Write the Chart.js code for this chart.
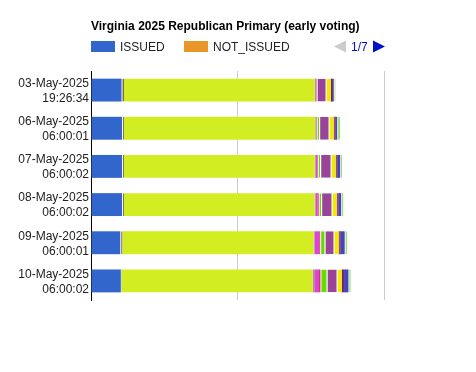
<!DOCTYPE html>
<html>
<head>
<meta charset="utf-8">
<script src="https://cdn.jsdelivr.net/npm/chart.js@4"></script>
<style>
  html, body { margin: 0; background: #fff; }
</style>
</head>
<body>
<canvas id="chart" width="476" height="372"></canvas>
<script>
/* Virginia 2025 Republican Primary — early voting ballot status snapshots */
/* global Chart */

const TITLE = "Virginia 2025 Republican Primary (early voting)";

// ─── Data ────────────────────────────────────────────────────────────────────

const snapshots = [
  ["03-May-2025", "19:26:34"],
  ["06-May-2025", "06:00:01"],
  ["07-May-2025", "06:00:02"],
  ["08-May-2025", "06:00:02"],
  ["09-May-2025", "06:00:01"],
  ["10-May-2025", "06:00:02"],
];

const statusNames = [
  "ISSUED", "NOT_ISSUED", "CANCELLED", "ON_MACHINE", "PRE-PROCESSED",
  "MARKED", "PROVISIONAL", "FWAB", "RETURNED", "UNDELIVERABLE",
  "SPOILED", "FAILED", "EXPIRED", "OTHER",
];

const statusColors = [
  "#3366cc", "#e8962a", "#7d6a4d", "#d2ee22", "#c487a8",
  "#dd44dd", "#dd3355", "#66dd00", "#994499", "#f0ea00",
  "#8b1c3c", "#552288", "#4444bb", "#88dd55",
];

// statuses drawn with a thin white gap before them
const gapped = [false, false, true, false, false, false, false, true, true, true, false, false, false, true];

const issued        = [6250, 6360, 6360, 6360, 5990, 6110];
const notIssued     = [0, 0, 0, 0, 0, 0];
const cancelled     = [510, 410, 410, 410, 470, 140];
const onMachine     = [39050, 39150, 39050, 39050, 39150, 39150];
const preProcessed  = [410, 140, 200, 200, 200, 470];
const marked        = [0, 160, 410, 410, 920, 820];
const provisional   = [0, 0, 0, 200, 200, 290];
const fwab          = [0, 510, 510, 510, 920, 1290];
const returned      = [1850, 1950, 2150, 2150, 1850, 2050];
const undeliverable = [1030, 1030, 1030, 1030, 1030, 1030];
const spoiled       = [270, 200, 200, 200, 200, 270];
const failed        = [180, 200, 200, 200, 200, 200];
const expired       = [160, 310, 510, 510, 820, 900];
const other         = [360, 560, 360, 460, 460, 460];

const seriesValues = [
  issued, notIssued, cancelled, onMachine, preProcessed, marked, provisional,
  fwab, returned, undeliverable, spoiled, failed, expired, other,
];

const X_MAX = 60000;
const X_STEP = 30000;
const LEGEND_PER_PAGE = 2;

// ─── Header (title, legend, pager) ───────────────────────────────────────────

const FONT = "Arial, 'Liberation Sans', sans-serif";

const headerPlugin = {
  id: "header",
  afterDraw(chart) {
    const { ctx, chartArea } = chart;
    const left = chartArea.left;
    ctx.save();

    ctx.fillStyle = "#000";
    ctx.font = `bold 12px ${FONT}`;
    ctx.textBaseline = "alphabetic";
    ctx.fillText(TITLE, left, 30);

    // first legend page
    ctx.font = `12px ${FONT}`;
    let x = left;
    chart.data.datasets.slice(0, LEGEND_PER_PAGE).forEach((ds) => {
      ctx.fillStyle = ds.backgroundColor;
      ctx.fillRect(x, 41, 24, 11);
      ctx.fillStyle = "#222";
      ctx.fillText(ds.label, x + 29, 51);
      x += 93;
    });

    // pager
    const pages = Math.ceil(chart.data.datasets.length / LEGEND_PER_PAGE);
    ctx.fillStyle = "#cccccc";
    ctx.beginPath();
    ctx.moveTo(334, 46.5); ctx.lineTo(346, 40.5); ctx.lineTo(346, 52.5);
    ctx.fill();
    ctx.fillStyle = "#0011cc";
    ctx.fillText(`1/${pages}`, 351, 51);
    ctx.beginPath();
    ctx.moveTo(373, 40.5); ctx.lineTo(385, 46.5); ctx.lineTo(373, 52.5);
    ctx.fill();

    ctx.restore();
  },
};

// ─── Chart ───────────────────────────────────────────────────────────────────

const datasets = statusNames.map((name, i) => ({
  label: name,
  data: seriesValues[i],
  backgroundColor: statusColors[i],
  borderColor: "#ffffff",
  borderWidth: gapped[i] ? { left: 1, right: 0, top: 0, bottom: 0 } : 0,
  borderSkipped: false,
  barPercentage: 0.6,
  categoryPercentage: 1,
}));

new Chart(document.getElementById("chart"), {
  type: "bar",
  data: { labels: snapshots, datasets },
  options: {
    indexAxis: "y",
    responsive: false,
    animation: false,
    layout: { padding: { top: 71, right: 92, bottom: 72, left: 0 } },
    plugins: {
      legend: { display: false },
      title: { display: false },
      tooltip: { enabled: false },
    },
    scales: {
      x: {
        stacked: true,
        min: 0,
        max: X_MAX,
        ticks: { display: false, stepSize: X_STEP },
        grid: {
          drawTicks: false,
          color: (c) => (c.index === 0 ? "rgba(0,0,0,0)" : "#cccccc"),
        },
        border: { display: false },
        afterFit: (s) => { s.height = 0; },
      },
      y: {
        stacked: true,
        grid: { display: false, drawTicks: false },
        border: { display: true, color: "#000", width: 1 },
        ticks: {
          color: "#222",
          padding: 2,
          labelOffset: 1,
          font: { family: FONT, size: 12, lineHeight: 1.25 },
        },
        afterFit: (s) => { s.width = 91; },
      },
    },
  },
  plugins: [headerPlugin],
});
</script>
</body>
</html>
